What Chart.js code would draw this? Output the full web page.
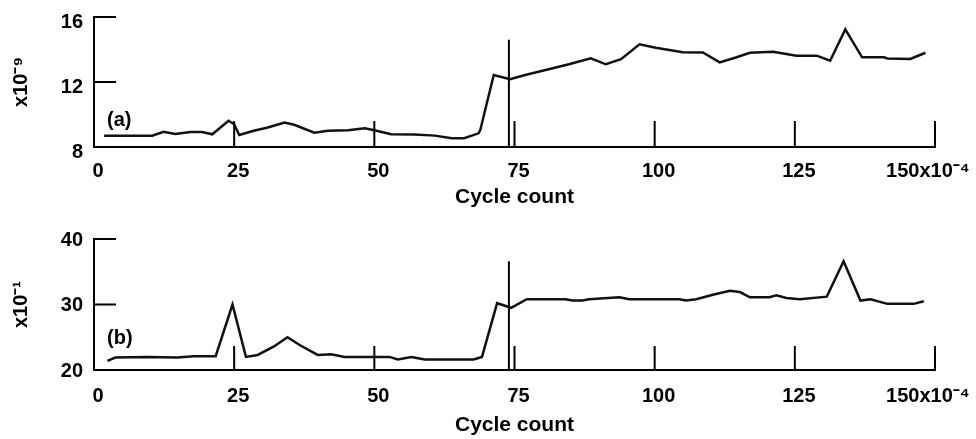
<!DOCTYPE html>
<html>
<head>
<meta charset="utf-8">
<title>Cycle count</title>
<script src="https://cdn.jsdelivr.net/npm/chart.js@4.4.1/dist/chart.umd.min.js"></script>
<style>
  html, body { margin: 0; padding: 0; background: #fff; }
  canvas { position: absolute; left: 0; }
  #chartA { top: 0; }
  #chartB { top: 220px; }
</style>
</head>
<body>
<canvas id="chartA" width="976" height="220"></canvas>
<canvas id="chartB" width="976" height="219"></canvas>
<script>
// x axis (cycle count, x10^-4)
const xTicks = [0, 25, 50, 75, 100, 125, 150];

// panel (a)
const cyclesA = [1.8, 10.4, 12.4, 14.5, 17.2, 19.3, 21.1, 24, 25, 25.9, 28.5, 31, 34, 35.7, 39.3, 41.7, 45.3, 48.3, 50, 53, 57.2, 60.8, 63.8, 66, 68.6, 68.9, 71.3, 74.2, 76.9, 81.1, 84.7, 88.6, 91.3, 94, 97.3, 100.2, 105, 108.6, 111.6, 114.6, 117, 121.1, 125.3, 128.9, 131.3, 134, 137, 140.9, 141.5, 145.6, 148.3];
const valuesA = [8.7, 8.7, 8.93, 8.8, 8.92, 8.92, 8.78, 9.62, 9.4, 8.74, 9.0, 9.2, 9.5, 9.37, 8.88, 9.0, 9.03, 9.15, 9.03, 8.78, 8.77, 8.7, 8.54, 8.54, 8.84, 9.05, 12.43, 12.17, 12.43, 12.78, 13.09, 13.46, 13.09, 13.4, 14.32, 14.11, 13.83, 13.82, 13.21, 13.52, 13.8, 13.86, 13.62, 13.62, 13.31, 15.24, 13.52, 13.52, 13.45, 13.42, 13.8];
const yTicksA = [8, 12, 16];
const markerA = [8, 14.6];

// panel (b)
const cyclesB = [2.4, 3.8, 9.4, 14.8, 17.8, 21.7, 24.7, 27.1, 29.2, 32.1, 34.5, 36.9, 39.9, 42.3, 44.7, 48.9, 52.7, 54.2, 56.6, 59, 63.2, 67.7, 69.2, 71.9, 74.4, 77.2, 84.1, 85.3, 87.1, 88.3, 93.7, 95.5, 104.4, 105.6, 107.4, 110.4, 113.4, 115.2, 117, 120.5, 121.7, 123.5, 125.9, 130.7, 133.7, 136.7, 138.5, 141.5, 146.2, 148];
const valuesB = [21.4, 21.9, 22.0, 21.9, 22.1, 22.1, 30.0, 22.0, 22.3, 23.6, 25.0, 23.7, 22.3, 22.4, 22.0, 22.0, 22.0, 21.6, 22.0, 21.6, 21.6, 21.6, 22.0, 30.2, 29.5, 30.8, 30.8, 30.6, 30.6, 30.8, 31.1, 30.8, 30.8, 30.6, 30.8, 31.5, 32.1, 31.9, 31.1, 31.1, 31.4, 31.0, 30.8, 31.2, 36.6, 30.6, 30.8, 30.1, 30.1, 30.5];
const yTicksB = [20, 30, 40];
const markerB = [20, 36.6];

const markerCycle = 74;

Chart.defaults.font.family = '"Liberation Sans", Arial, Helvetica, sans-serif';
Chart.defaults.font.weight = 'bold';
Chart.defaults.color = '#000';

// tick marks drawn inward from the axes
const innerTicks = {
  id: 'innerTicks',
  afterDatasetsDraw(chart, args, opts) {
    const {ctx, chartArea, scales} = chart;
    ctx.save();
    ctx.strokeStyle = '#000';
    ctx.lineWidth = 2;
    ctx.beginPath();
    scales.x.ticks.forEach(t => {
      const px = scales.x.getPixelForValue(t.value);
      ctx.moveTo(px, chartArea.bottom);
      ctx.lineTo(px, chartArea.bottom - opts.xLength);
    });
    scales.y.ticks.forEach(t => {
      const py = scales.y.getPixelForValue(t.value);
      ctx.moveTo(chartArea.left, py);
      ctx.lineTo(chartArea.left + opts.yLength, py);
    });
    ctx.stroke();
    ctx.restore();
  }
};

const panelLabel = {
  id: 'panelLabel',
  afterDraw(chart, args, opts) {
    const {ctx, chartArea} = chart;
    ctx.save();
    ctx.font = 'bold 20px "Liberation Sans", Arial, sans-serif';
    ctx.fillStyle = '#000';
    ctx.textBaseline = 'middle';
    ctx.fillText(opts.text, chartArea.left + opts.dx, chartArea.bottom - opts.dy);
    ctx.restore();
  }
};

function makePanel(id, cycles, values, marker, yTicks, yTitle, label, p) {
  const points = cycles.map((c, i) => ({x: c, y: values[i]}));
  const markerPoints = marker.map(v => ({x: markerCycle, y: v}));

  return new Chart(document.getElementById(id), {
    type: 'line',
    data: {
      datasets: [{
        data: points,
        borderColor: '#111',
        borderWidth: 2.5,
        pointRadius: 0,
        tension: 0
      }, {
        data: markerPoints,
        borderColor: '#000',
        borderWidth: 2,
        pointRadius: 0
      }]
    },
    options: {
      responsive: false,
      animation: false,
      events: [],
      layout: {padding: {left: 0, right: 41, top: p.top, bottom: 0}},
      plugins: {
        legend: {display: false},
        tooltip: {enabled: false},
        innerTicks: {xLength: p.xTick, yLength: 22},
        panelLabel: {text: label, dx: 13, dy: p.labelDy}
      },
      scales: {
        x: {
          type: 'linear',
          min: 0,
          max: 150,
          afterBuildTicks: s => { s.ticks = xTicks.map(v => ({value: v})); },
          afterFit: s => { s.height = p.xHeight; s.paddingLeft = 0; s.paddingRight = 0; },
          grid: {display: false, drawTicks: false},
          border: {display: true, color: '#000', width: 2},
          ticks: {
            color: '#000',
            font: {size: 20, weight: 'bold'},
            padding: p.xPad,
            labelOffset: 4,
            maxRotation: 0,
            autoSkip: false,
            callback: v => v === 150 ? '150x10\u207B\u2074    ' : v
          },
          title: {
            display: true,
            text: 'Cycle count',
            color: '#000',
            font: {size: 21, weight: 'bold'},
            padding: {top: 0, bottom: p.titlePad}
          }
        },
        y: {
          type: 'linear',
          min: yTicks[0],
          max: yTicks[yTicks.length - 1],
          afterBuildTicks: s => { s.ticks = yTicks.map(v => ({value: v})); },
          afterFit: s => { s.width = 94; s.paddingTop = 0; s.paddingBottom = 0; },
          grid: {display: false, drawTicks: false},
          border: {display: true, color: '#000', width: 2},
          ticks: {
            color: '#000',
            font: {size: 20, weight: 'bold'},
            padding: 11,
            labelOffset: p.yLabelOffset
          },
          title: {
            display: true,
            text: yTitle,
            color: '#000',
            font: {size: 20, weight: 'bold'},
            padding: {top: 9, bottom: 0}
          }
        }
      }
    },
    plugins: [innerTicks, panelLabel]
  });
}

makePanel('chartA', cyclesA, valuesA, markerA, yTicksA, 'x10\u207B\u2079', '(a)',
  {top: 17, xHeight: 73, xPad: 12, titlePad: 10, xTick: 26, labelDy: 27, yLabelOffset: 5});
makePanel('chartB', cyclesB, valuesB, markerB, yTicksB, 'x10\u207B\u00B9', '(b)',
  {top: 19, xHeight: 69, xPad: 14, titlePad: 1, xTick: 24, labelDy: 32, yLabelOffset: 1});
</script>
</body>
</html>
